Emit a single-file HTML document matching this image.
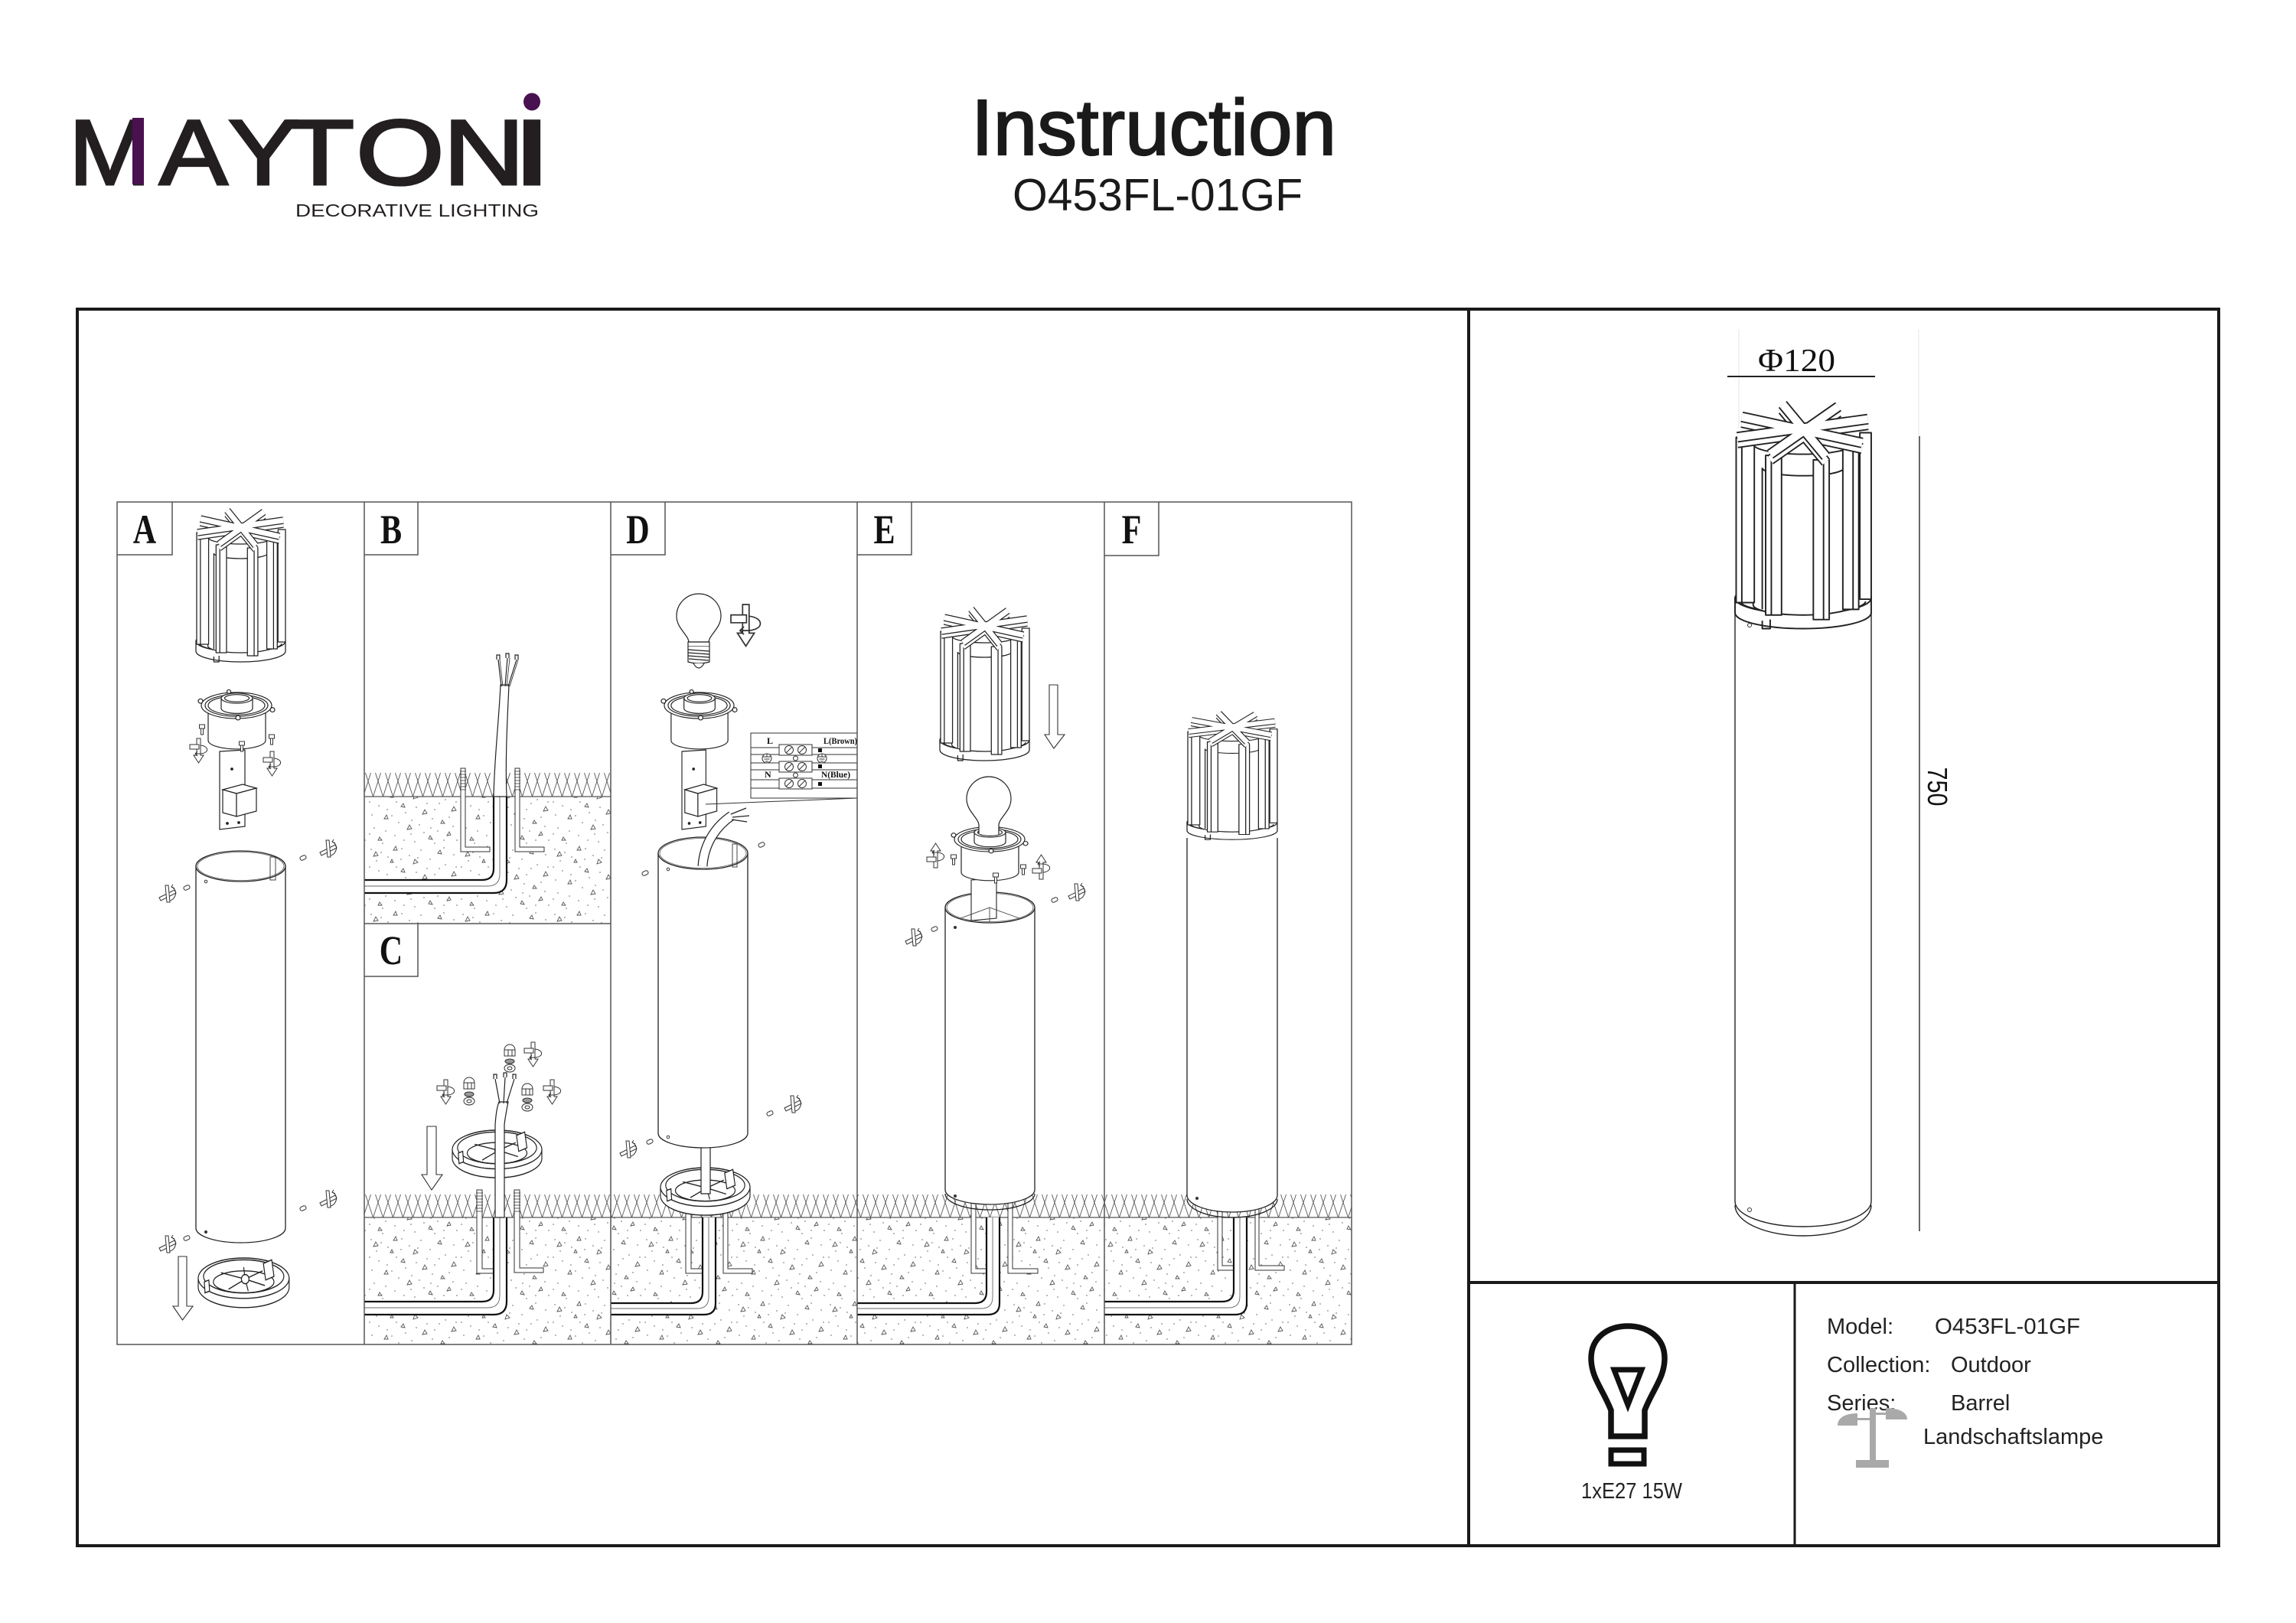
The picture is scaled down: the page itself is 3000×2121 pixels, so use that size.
<!DOCTYPE html>
<html><head><meta charset="utf-8">
<style>
html,body{margin:0;padding:0;background:#fff;}
svg{display:block;}
</style></head>
<body>
<svg width="3000" height="2121" viewBox="0 0 3000 2121" xmlns="http://www.w3.org/2000/svg" xmlns:xlink="http://www.w3.org/1999/xlink" font-family="'Liberation Sans', sans-serif">
<defs>
  <pattern id="g1" x="0" y="1010" width="13" height="31" patternUnits="userSpaceOnUse">
    <path d="M-16.5 0 L-6.5 31 L3.5 0 M-3.5 0 L6.5 31 L16.5 0 M9.5 0 L19.5 31 L29.5 0" fill="none" stroke="#555" stroke-width="0.9"/>
  </pattern>
  <pattern id="g2" x="0" y="1561" width="13" height="30" patternUnits="userSpaceOnUse">
    <path d="M-16.5 0 L-6.5 30 L3.5 0 M-3.5 0 L6.5 30 L16.5 0 M9.5 0 L19.5 30 L29.5 0" fill="none" stroke="#555" stroke-width="0.9"/>
  </pattern>
  <pattern id="soil" x="0" y="0" width="120" height="85" patternUnits="userSpaceOnUse">
    <path d="M8 14 l6 -1 l-3 -5 z M34 6 l5 0 l-2 -5 z M60 24 l6 -2 l-4 -4 z M92 10 l5 1 l-2 -5 z M110 40 l6 -1 l-3 -5 z M22 50 l5 0 l-2 -5 z M52 64 l6 -1 l-3 -5 z M80 76 l5 1 l-3 -5 z M104 72 l5 -1 l-2 -4 z M14 78 l5 0 l-3 -4 z M72 44 l6 -1 l-3 -5 z M44 34 l5 1 l-2 -5 z M96 56 l5 0 l-3 -4 z M30 22 l4 0 l-2 -4 z" fill="none" stroke="#555" stroke-width="0.9"/>
    <g fill="#8a8a8a">
      <circle cx="5" cy="5" r="0.9"/><circle cx="18" cy="9" r="0.9"/><circle cx="27" cy="15" r="0.9"/><circle cx="45" cy="4" r="0.9"/><circle cx="55" cy="13" r="0.9"/><circle cx="70" cy="6" r="0.9"/><circle cx="82" cy="18" r="0.9"/><circle cx="100" cy="3" r="0.9"/><circle cx="113" cy="12" r="0.9"/><circle cx="3" cy="28" r="0.9"/><circle cx="15" cy="33" r="0.9"/><circle cx="38" cy="28" r="0.9"/><circle cx="50" cy="42" r="0.9"/><circle cx="64" cy="35" r="0.9"/><circle cx="78" cy="30" r="0.9"/><circle cx="88" cy="38" r="0.9"/><circle cx="102" cy="25" r="0.9"/><circle cx="116" cy="28" r="0.9"/><circle cx="6" cy="45" r="0.9"/><circle cx="32" cy="46" r="0.9"/><circle cx="41" cy="55" r="0.9"/><circle cx="58" cy="52" r="0.9"/><circle cx="68" cy="58" r="0.9"/><circle cx="85" cy="50" r="0.9"/><circle cx="92" cy="66" r="0.9"/><circle cx="112" cy="60" r="0.9"/><circle cx="9" cy="62" r="0.9"/><circle cx="24" cy="66" r="0.9"/><circle cx="36" cy="72" r="0.9"/><circle cx="48" cy="78" r="0.9"/><circle cx="62" cy="80" r="0.9"/><circle cx="74" cy="68" r="0.9"/><circle cx="88" cy="82" r="0.9"/><circle cx="100" cy="78" r="0.9"/><circle cx="117" cy="78" r="0.9"/><circle cx="20" cy="82" r="0.9"/><circle cx="3" cy="70" r="0.9"/><circle cx="57" cy="70" r="0.9"/><circle cx="83" cy="62" r="0.9"/><circle cx="107" cy="48" r="0.9"/><circle cx="26" cy="38" r="0.9"/><circle cx="66" cy="16" r="0.9"/><circle cx="94" cy="30" r="0.9"/><circle cx="12" cy="20" r="0.9"/><circle cx="44" cy="18" r="0.9"/>
    </g>
  </pattern>

  <g id="head" stroke="#222" stroke-width="1.3" stroke-linejoin="round" fill="#fff">
    <path d="M0 172 V185 A60 14 0 0 0 120 185 V172 Z"/>
    <ellipse cx="60" cy="172" rx="60" ry="14"/>
    <path d="M5 175 A55 10 0 0 0 115 175" fill="none"/>
    <path d="M24 192 v7 h7 v-8" fill="none"/>
    <path d="M16 36 V178 A44 9 0 0 0 104 178 V36 Z"/>
    <ellipse cx="60" cy="36" rx="44" ry="9"/>
    <path d="M24 57 A36 7 0 0 0 96 57" fill="none"/>
    <line x1="24" y1="57" x2="24" y2="182"/><line x1="96" y1="57" x2="96" y2="182"/>
    <rect x="110" y="26" width="10" height="147"/>
    <rect x="1" y="30" width="16" height="146"/><line x1="6" y1="30" x2="6" y2="176"/>
    <rect x="95" y="38" width="14" height="144"/><line x1="104" y1="38" x2="104" y2="182"/>
    <rect x="27" y="46" width="14" height="141"/><line x1="32" y1="46" x2="32" y2="187"/>
    <rect x="69" y="50" width="14" height="141"/><line x1="78" y1="50" x2="78" y2="191"/>
    <g fill="none" stroke-linecap="butt">
      <g transform="translate(0,5)">
        <path d="M42 1 L80 47 M91 3 L31 45 M117 14 L2 30 M112 35 L6 12" stroke="#222" stroke-width="9.5"/>
        <path d="M42 1 L80 47 M91 3 L31 45 M117 14 L2 30 M112 35 L6 12" stroke="#fff" stroke-width="7"/>
      </g>
      <path d="M42 1 L80 47 M91 3 L31 45 M117 14 L2 30 M112 35 L6 12" stroke="#222" stroke-width="9.5"/>
      <path d="M42 1 L80 47 M91 3 L31 45 M117 14 L2 30 M112 35 L6 12" stroke="#fff" stroke-width="7"/>
    </g>
  </g>

  <g id="sock" fill="#fff" stroke="#222" stroke-width="1.2">
    <path d="M13 24 V70 A37.5 12 0 0 0 88 70 V24"/>
    <ellipse cx="50" cy="22" rx="46" ry="18"/>
    <ellipse cx="50" cy="22" rx="41" ry="15"/>
    <ellipse cx="50" cy="22" rx="37" ry="13"/>
    <path d="M30 12 V26 A20.5 7 0 0 0 71 26 V12"/>
    <ellipse cx="50.5" cy="12" rx="20.5" ry="7"/>
    <ellipse cx="50.5" cy="12" rx="16" ry="5"/>
    <circle cx="3" cy="16" r="3"/>
    <circle cx="97" cy="28" r="3"/>
    <circle cx="52" cy="39" r="3"/>
    <circle cx="40" cy="3" r="2.5"/>
  </g>

  <g id="brk" fill="#fff" stroke="#222" stroke-width="1.2">
    <path d="M0 2 L33 0 V100 L0 104 Z"/>
    <circle cx="16" cy="25" r="1.3" fill="#222"/>
    <path d="M4 52 L30 45 L48 50 L22 57 Z"/>
    <path d="M4 52 V82 L22 87 V57 Z"/>
    <path d="M22 57 L48 50 V80 L22 87 Z"/>
    <circle cx="10" cy="96" r="1.3" fill="#222"/><circle cx="25" cy="95" r="1.3" fill="#222"/>
  </g>

  <g id="flange" fill="#fff" stroke="#222" stroke-width="1.2">
    <path d="M0 32 V42 A60 22 0 0 0 120 42 V32 Z"/>
    <ellipse cx="60" cy="32" rx="60" ry="22"/>
    <ellipse cx="60" cy="30" rx="53" ry="18"/>
    <ellipse cx="60" cy="36" rx="40" ry="12" fill="none"/>
    <path d="M62 33 L30 26 M62 33 L40 44 M62 33 L88 40 M62 33 L85 24 M62 33 L60 20 M62 33 L66 46" fill="none"/>
    <circle cx="62" cy="33" r="5"/>
    <path d="M86 16 L97 12 L100 30 L89 34 Z"/>
    <path d="M8 36 L14 34 L15 46 L9 48 Z"/>
  </g>

  <g id="rot" fill="#fff" stroke="#333" stroke-width="1">
    <path d="M9 0 H14 V22 H18 L11.5 32 L5 22 H9 Z"/>
    <path d="M0 8 H12 V14 H0 Z"/>
    <path d="M14 9 C25 10 26 19 14 20 L8 20" fill="none"/>
    <path d="M10 17 L7 20 L10 23" fill="none"/>
  </g>

  <g id="prop" fill="#fff" stroke="#333" stroke-width="1">
    <path d="M2 18 L22 8 L24 12 L4 22 Z"/>
    <path d="M10 2 L14 2 L16 24 L12 24 Z"/>
    <path d="M18 4 C27 8 24 20 16 22" fill="none"/>
    <path d="M20 1 L18 4 L22 6" fill="none"/>
  </g>

  <g id="pin"><rect x="-4" y="-2.5" width="8" height="5" rx="2" fill="#fff" stroke="#333" stroke-width="1" transform="rotate(-25)"/></g>

  <g id="screw" fill="#fff" stroke="#333" stroke-width="1">
    <rect x="-3.5" y="0" width="7" height="5"/>
    <rect x="-1.5" y="5" width="3" height="8"/>
  </g>

  <g id="nut" fill="#fff" stroke="#333" stroke-width="1">
    <path d="M-7 0 A7 7 0 0 1 7 0 Z"/>
    <rect x="-7" y="0" width="14" height="8"/>
    <line x1="-2" y1="0" x2="-2" y2="8"/><line x1="3" y1="0" x2="3" y2="8"/>
    <ellipse cx="0" cy="15" rx="6" ry="3" fill="#999"/>
    <ellipse cx="0" cy="24" rx="7" ry="5"/><ellipse cx="0" cy="24" rx="3" ry="2"/>
  </g>
</defs>

<rect width="3000" height="2121" fill="#fff"/>

<!-- LOGO -->
<g fill="#231f20" stroke="#231f20" stroke-width="3" font-family="'Liberation Sans', sans-serif" font-size="121">
  <text transform="translate(90,241) scale(1.06,1)">M</text>
  <text transform="translate(208,241) scale(1.11,1)">A</text>
  <text transform="translate(298,241) scale(1.14,1)">Y</text>
  <text transform="translate(373,241) scale(1.22,1)">T</text>
  <text transform="translate(465,241) scale(1.23,1)">O</text>
  <text transform="translate(579,241) scale(1.22,1)">N</text>
  <text transform="translate(669,241) scale(1.55,1)">I</text>
</g>
<rect x="173" y="154" width="15" height="87" fill="#4a1150"/>
<ellipse cx="695" cy="133" rx="11" ry="11.5" fill="#4a1150"/>
<text x="386" y="283" font-size="23" fill="#231f20" textLength="318" lengthAdjust="spacingAndGlyphs">DECORATIVE LIGHTING</text>

<!-- TITLE -->
<text x="1269" y="202" font-size="103" fill="#1a1a1a" stroke="#1a1a1a" stroke-width="2.2" textLength="477" lengthAdjust="spacingAndGlyphs">Instruction</text>
<text x="1323" y="275" font-size="59" fill="#1a1a1a" textLength="379" lengthAdjust="spacingAndGlyphs">O453FL-01GF</text>

<!-- FRAME -->
<g stroke="#1a1a1a" stroke-width="4" fill="none">
  <rect x="101" y="404" width="2798" height="1616"/>
  <line x1="1919" y1="404" x2="1919" y2="2020"/>
  <line x1="1919" y1="1676" x2="2899" y2="1676"/>
  <line x1="2345" y1="1676" x2="2345" y2="2020" stroke-width="3"/>
</g>

<!-- GROUND AREAS -->
<rect x="476" y="1041" width="322" height="166" fill="url(#soil)"/>
<rect x="476" y="1591" width="1290" height="166" fill="url(#soil)"/>
<rect x="476" y="1010" width="322" height="31" fill="url(#g1)"/>
<rect x="476" y="1561" width="1290" height="30" fill="url(#g2)"/>
<g stroke="#555" stroke-width="1.3">
  <line x1="476" y1="1041" x2="798" y2="1041"/>
  <line x1="476" y1="1591" x2="1766" y2="1591"/>
</g>

<!-- ANCHORS -->
<g fill="#fff" stroke="#333" stroke-width="1">
  <path d="M602 1004 V1113 H640 V1107 H608 V1004 Z"/>
  <path d="M673 1004 V1113 H711 V1107 H679 V1004 Z"/>
  <path d="M623 1555 V1664 H645 V1658 H630 V1555 Z"/>
  <path d="M672 1555 V1663 H710 V1657 H679 V1555 Z"/>
  <path d="M896 1555 V1664 H918 V1658 H903 V1555 Z"/>
  <path d="M945 1555 V1664 H983 V1658 H951 V1555 Z"/>
  <path d="M1269 1555 V1664 H1289 V1658 H1275 V1555 Z"/>
  <path d="M1317 1555 V1664 H1356 V1658 H1323 V1555 Z"/>
  <path d="M1591 1555 V1660 H1612 V1654 H1597 V1555 Z"/>
  <path d="M1640 1555 V1660 H1678 V1654 H1645 V1555 Z"/>
</g>
<g stroke="#333" stroke-width="0.8" fill="none">
  <path d="M601 1008 h8 M601 1012 h8 M601 1016 h8 M601 1020 h8 M601 1024 h8 M601 1028 h8 M601 1032 h8"/>
  <path d="M672 1008 h8 M672 1012 h8 M672 1016 h8 M672 1020 h8 M672 1024 h8 M672 1028 h8 M672 1032 h8"/>
  <path d="M622 1559 h9 M622 1563 h9 M622 1567 h9 M622 1571 h9 M622 1575 h9 M622 1579 h9 M622 1583 h9"/>
  <path d="M671 1559 h9 M671 1563 h9 M671 1567 h9 M671 1571 h9 M671 1575 h9 M671 1579 h9 M671 1583 h9"/>
</g>

<!-- UNDERGROUND CABLES -->
<g>
  <path d="M476 1150 H630 Q645 1150 645 1135 V1041 H662 V1150 Q662 1167 645 1167 H476 Z" fill="#fff"/>
  <path d="M476 1150 H630 Q645 1150 645 1135 V1041 M476 1167 H645 Q662 1167 662 1150 V1041" fill="none" stroke="#111" stroke-width="2.2"/>
  <path d="M476 1158 H637 Q653 1158 653 1142 V1041" fill="none" stroke="#666" stroke-width="0.9"/>

  <path d="M476 1701 H630 Q645 1701 645 1686 V1591 H662 V1701 Q662 1718 645 1718 H476 Z" fill="#fff"/>
  <path d="M476 1701 H630 Q645 1701 645 1686 V1591 M476 1718 H645 Q662 1718 662 1701 V1591" fill="none" stroke="#111" stroke-width="2.2"/>
  <path d="M476 1709 H637 Q653 1709 653 1693 V1591" fill="none" stroke="#666" stroke-width="0.9"/>

  <path d="M798 1703 H903 Q918 1703 918 1688 V1591 H935 V1703 Q935 1718 920 1718 H798 Z" fill="#fff"/>
  <path d="M798 1703 H903 Q918 1703 918 1688 V1591 M798 1718 H920 Q935 1718 935 1703 V1591" fill="none" stroke="#111" stroke-width="2.2"/>
  <path d="M798 1710 H911 Q926 1710 926 1695 V1591" fill="none" stroke="#666" stroke-width="0.9"/>

  <path d="M1120 1703 H1274 Q1289 1703 1289 1688 V1591 H1306 V1703 Q1306 1718 1291 1718 H1120 Z" fill="#fff"/>
  <path d="M1120 1703 H1274 Q1289 1703 1289 1688 V1591 M1120 1718 H1291 Q1306 1718 1306 1703 V1591" fill="none" stroke="#111" stroke-width="2.2"/>
  <path d="M1120 1710 H1282 Q1297 1710 1297 1695 V1591" fill="none" stroke="#666" stroke-width="0.9"/>

  <path d="M1443 1701 H1597 Q1612 1701 1612 1686 V1591 H1629 V1703 Q1629 1718 1614 1718 H1443 Z" fill="#fff"/>
  <path d="M1443 1701 H1597 Q1612 1701 1612 1686 V1591 M1443 1718 H1614 Q1629 1718 1629 1703 V1591" fill="none" stroke="#111" stroke-width="2.2"/>
  <path d="M1443 1709 H1605 Q1620 1709 1620 1694 V1591" fill="none" stroke="#666" stroke-width="0.9"/>
</g>

<!-- PANEL B cable above ground -->
<path d="M645 1041 C646 990 652 940 654 895 L665 895 C663 940 660 990 662 1041 Z" fill="#fff" stroke="#222" stroke-width="1.2"/>
<g fill="none" stroke="#222" stroke-width="1.2">
  <path d="M655 897 L651 862 M660 897 L663 860 M664 897 L675 862"/>
  <path d="M657 897 L653 862 M662 897 L666 860 M666 897 L677 862" stroke-width="0.8"/>
  <path d="M649 862 v-6 h4 v6 M661 860 v-6 h4 v6 M673 862 v-6 h4 v6"/>
</g>

<!-- PANEL A -->
<use xlink:href="#head" transform="translate(256,666) scale(0.975,1)"/>
<use xlink:href="#brk" transform="translate(287,980)"/>
<use xlink:href="#sock" transform="translate(259,901) scale(1,0.95)"/>
<use xlink:href="#screw" transform="translate(264,947)"/>
<use xlink:href="#screw" transform="translate(355,960)"/>
<use xlink:href="#screw" transform="translate(316,969)"/>
<use xlink:href="#rot" transform="translate(248,965)"/>
<use xlink:href="#rot" transform="translate(344,982)"/>
<path d="M256 1132 V1605 A58.5 19 0 0 0 373 1605 V1132" fill="#fff" stroke="#222" stroke-width="1.3"/>
<ellipse cx="314.5" cy="1132" rx="58.5" ry="20" fill="#fff" stroke="#222" stroke-width="1.3"/>
<ellipse cx="314.5" cy="1132" rx="56.5" ry="18.5" fill="none" stroke="#555" stroke-width="0.8"/>
<rect x="353" y="1120" width="7" height="30" fill="none" stroke="#333" stroke-width="0.9"/>
<circle cx="269" cy="1152" r="1.8" fill="none" stroke="#333"/>
<circle cx="269" cy="1610" r="2" fill="#333"/>
<use xlink:href="#pin" transform="translate(244,1160)"/>
<use xlink:href="#pin" transform="translate(396,1121)"/>
<use xlink:href="#pin" transform="translate(244,1618)"/>
<use xlink:href="#pin" transform="translate(396,1579)"/>
<use xlink:href="#prop" transform="translate(206,1155)"/>
<use xlink:href="#prop" transform="translate(416,1096)"/>
<use xlink:href="#prop" transform="translate(206,1613)"/>
<use xlink:href="#prop" transform="translate(416,1554)"/>
<use xlink:href="#flange" transform="translate(259,1632) scale(0.99,1.2)"/>
<path d="M233 1642 H244 V1707 H252 L238.5 1725 L226 1707 H233 Z" fill="#fff" stroke="#333" stroke-width="1.1"/>

<!-- PANEL C -->
<use xlink:href="#flange" transform="translate(591,1465.5) scale(0.975,1.15)"/>
<path d="M647 1591 V1470 C648 1455 650 1445 652 1440 L664 1440 C662 1450 660 1460 659 1470 V1591 Z" fill="#fff" stroke="#222" stroke-width="1.2"/>
<g fill="none" stroke="#222" stroke-width="1.2">
  <path d="M653 1442 L647 1410 M658 1442 L660 1408 M662 1442 L672 1410"/>
  <path d="M645 1410 v-6 h4 v6 M658 1408 v-6 h4 v6 M670 1410 v-6 h4 v6"/>
</g>
<use xlink:href="#nut" transform="translate(613,1415)"/>
<use xlink:href="#nut" transform="translate(666,1372)"/>
<use xlink:href="#nut" transform="translate(689,1423)"/>
<use xlink:href="#rot" transform="translate(571,1411)"/>
<use xlink:href="#rot" transform="translate(685,1362)"/>
<use xlink:href="#rot" transform="translate(710,1411)"/>
<path d="M558 1472 H570 V1535 H578 L564 1555 L551 1535 H558 Z" fill="#fff" stroke="#333" stroke-width="1.1"/>

<!-- PANEL D -->
<use xlink:href="#flange" transform="translate(863,1514.5) scale(0.975,1.15)"/>
<path d="M916 1498 L916 1560 L928 1560 L928 1498 Z" fill="#fff" stroke="#222" stroke-width="1.2"/>
<path d="M860 1115 V1481 A58.5 19 0 0 0 977 1481 V1115" fill="#fff" stroke="#222" stroke-width="1.3"/>
<ellipse cx="918.5" cy="1115" rx="58.5" ry="21" fill="#fff" stroke="#222" stroke-width="1.3"/>
<ellipse cx="918.5" cy="1115" rx="56.5" ry="19.5" fill="none" stroke="#555" stroke-width="0.8"/>
<rect x="957" y="1103" width="6" height="30" fill="none" stroke="#333" stroke-width="0.9"/>
<circle cx="873" cy="1136" r="1.8" fill="none" stroke="#333"/>
<circle cx="873" cy="1486" r="1.8" fill="none" stroke="#333"/>
<path d="M918 1132 C920 1100 938 1078 956 1066" fill="none" stroke="#222" stroke-width="13"/>
<path d="M918 1132 C920 1100 938 1078 956 1066" fill="none" stroke="#fff" stroke-width="10.5"/>
<path d="M955 1064 L975 1056 M957 1068 L979 1066 M956 1071 L976 1074" fill="none" stroke="#222" stroke-width="1.3"/>
<use xlink:href="#brk" transform="translate(891,980) scale(0.95,1)"/>
<use xlink:href="#sock" transform="translate(864,901) scale(0.99,0.95)"/>
<g fill="#fff" stroke="#222" stroke-width="1.2">
  <path d="M900 839 C899 829 884 821 884 805 A29 29 0 0 1 942 805 C942 821 927 829 926 839 Z"/>
  <path d="M899 839 H927 V845 H899 Z"/>
  <path d="M899 845 V865 Q913 869 927 865 V845"/>
  <path d="M899 849 L927 851 M899 853 L927 855 M899 857 L927 859 M900 861 L926 863" fill="none"/>
  <path d="M906 867 Q913 879 920 867"/>
</g>
<use xlink:href="#rot" transform="translate(955,790) scale(1.7)"/>
<use xlink:href="#pin" transform="translate(843,1141)"/>
<use xlink:href="#pin" transform="translate(995,1104)"/>
<use xlink:href="#pin" transform="translate(849,1492)"/>
<use xlink:href="#pin" transform="translate(1006,1455)"/>
<use xlink:href="#prop" transform="translate(808,1489)"/>
<use xlink:href="#prop" transform="translate(1023,1430)"/>

<!-- wiring diagram -->
<line x1="922" y1="1051" x2="1120" y2="1043" stroke="#333" stroke-width="1"/>
<rect x="981" y="958" width="139" height="85" fill="#fff" stroke="#333" stroke-width="1"/>
<g stroke="#333" stroke-width="1" fill="none">
  <path d="M981 977 H1018 M981 986 H1018 M981 997 H1018 M981 1006 H1018 M981 1019 H1018 M981 1030 H1018"/>
  <path d="M1061 977 H1120 M1061 986 H1120 M1061 997 H1120 M1061 1006 H1120 M1061 1019 H1120 M1061 1030 H1120"/>
  <rect x="1018" y="973" width="43" height="14" fill="#fff"/>
  <rect x="1018" y="995" width="43" height="14" fill="#fff"/>
  <rect x="1018" y="1017" width="43" height="14" fill="#fff"/>
  <circle cx="1031" cy="980" r="5.5"/><circle cx="1048" cy="980" r="5.5"/>
  <circle cx="1031" cy="1002" r="5.5"/><circle cx="1048" cy="1002" r="5.5"/>
  <circle cx="1031" cy="1024" r="5.5"/><circle cx="1048" cy="1024" r="5.5"/>
  <path d="M1027 984 L1035 976 M1044 984 L1052 976 M1027 1006 L1035 998 M1044 1006 L1052 998 M1027 1028 L1035 1020 M1044 1028 L1052 1020"/>
  <circle cx="1039.5" cy="991" r="3" fill="#fff"/><circle cx="1039.5" cy="1013" r="3" fill="#fff"/>
  <circle cx="1002" cy="991" r="6" fill="#fff"/><circle cx="1074" cy="991" r="6" fill="#fff"/>
  <path d="M1002 985 V989 M997 989 H1007 M998.5 992 H1005.5 M1000 995 H1004 M1074 985 V989 M1069 989 H1079 M1070.5 992 H1077.5 M1072 995 H1076"/>
</g>
<g fill="#111">
  <rect x="1069" y="978" width="5" height="5"/><rect x="1069" y="999" width="5" height="5"/><rect x="1069" y="1022" width="5" height="5"/>
</g>
<g font-family="'Liberation Serif', serif" font-weight="bold" font-size="12" fill="#111">
  <text x="1002" y="972">L</text>
  <text x="1076" y="972" textLength="44" lengthAdjust="spacingAndGlyphs">L(Brown)</text>
  <text x="999" y="1016">N</text>
  <text x="1073" y="1016" textLength="38" lengthAdjust="spacingAndGlyphs">N(Blue)</text>
</g>

<!-- PANEL E -->
<use xlink:href="#head" transform="translate(1228,795) scale(0.975,1)"/>
<path d="M1371 895 H1382 V960 H1391 L1377 978 L1365 960 H1371 Z" fill="#fff" stroke="#333" stroke-width="1.1"/>
<path d="M1235 1186 V1555 A58.5 19 0 0 0 1352 1555 V1186" fill="#fff" stroke="#222" stroke-width="1.3"/>
<path d="M1235 1560 A58.5 21 0 0 0 1352 1560" fill="none" stroke="#222" stroke-width="1.3"/>
<ellipse cx="1293.5" cy="1186" rx="58.5" ry="20" fill="#fff" stroke="#222" stroke-width="1.3"/>
<ellipse cx="1293.5" cy="1186" rx="56.5" ry="18.5" fill="none" stroke="#555" stroke-width="0.8"/>
<circle cx="1248" cy="1212" r="2" fill="#333"/>
<circle cx="1248" cy="1563" r="2" fill="#333"/>
<path d="M1269 1150 L1302 1148 V1200 L1269 1203 Z" fill="#fff" stroke="#222" stroke-width="1.1"/>
<path d="M1255 1200 L1293 1186 L1332 1200 M1293 1186 V1205" fill="none" stroke="#444" stroke-width="0.9"/>
<use xlink:href="#sock" transform="translate(1243,1077) scale(1,0.9)"/>
<g fill="#fff" stroke="#222" stroke-width="1.2">
  <path d="M1279 1090 V1078 C1278 1068 1263 1060 1263 1044 A29 29 0 0 1 1321 1044 C1321 1060 1306 1068 1305 1078 V1090"/>
</g>
<use xlink:href="#screw" transform="translate(1246,1117)"/>
<use xlink:href="#screw" transform="translate(1337,1130)"/>
<use xlink:href="#screw" transform="translate(1301,1141)"/>
<use xlink:href="#rot" transform="translate(1211,1134) scale(1,-1)"/>
<use xlink:href="#rot" transform="translate(1349,1149) scale(1,-1)"/>
<use xlink:href="#prop" transform="translate(1394,1153)"/>
<use xlink:href="#pin" transform="translate(1378,1176)"/>
<use xlink:href="#prop" transform="translate(1181,1212)"/>
<use xlink:href="#pin" transform="translate(1221,1214)"/>

<!-- PANEL F -->
<path d="M1551 1095 V1562 A59 22 0 0 0 1669 1562 V1095" fill="#fff" stroke="#222" stroke-width="1.3"/>
<path d="M1551 1567 A59 24 0 0 0 1669 1567" fill="none" stroke="#222" stroke-width="1.3"/>
<circle cx="1564" cy="1566" r="2" fill="#333"/>
<use xlink:href="#head" transform="translate(1551,931) scale(0.983,0.835)"/>

<!-- PANEL FRAMES -->
<g stroke="#555" stroke-width="1.5" fill="none">
  <rect x="153" y="656" width="1613" height="1101"/>
  <line x1="476" y1="656" x2="476" y2="1757"/>
  <line x1="798" y1="656" x2="798" y2="1757"/>
  <line x1="1120" y1="656" x2="1120" y2="1757"/>
  <line x1="1443" y1="656" x2="1443" y2="1757"/>
  <line x1="476" y1="1207" x2="798" y2="1207"/>
  <path d="M153 725 H225 V656"/>
  <path d="M476 725 H546 V656"/>
  <path d="M476 1276 H546 V1207"/>
  <path d="M798 725 H869 V656"/>
  <path d="M1120 725 H1191 V656"/>
  <path d="M1443 726 H1514 V656"/>
</g>
<g font-family="'Liberation Serif', serif" font-weight="bold" font-size="54" fill="#111" text-anchor="middle">
  <text transform="translate(189,710) scale(0.78,1)">A</text>
  <text transform="translate(511,710) scale(0.78,1)">B</text>
  <text transform="translate(511,1260) scale(0.78,1)">C</text>
  <text transform="translate(833.5,710) scale(0.78,1)">D</text>
  <text transform="translate(1155.5,710) scale(0.78,1)">E</text>
  <text transform="translate(1478.5,710) scale(0.78,1)">F</text>
</g>

<!-- RIGHT PANEL DRAWING -->
<g stroke="#e4e4e4" stroke-width="1">
  <line x1="2272" y1="430" x2="2272" y2="560"/>
  <line x1="2507" y1="430" x2="2507" y2="570"/>
</g>
<text x="2297" y="485" font-family="'Liberation Serif', serif" font-size="42" fill="#111" textLength="101" lengthAdjust="spacingAndGlyphs">Φ120</text>
<line x1="2257" y1="492" x2="2450" y2="492" stroke="#222" stroke-width="2"/>
<line x1="2508" y1="570" x2="2508" y2="1609" stroke="#333" stroke-width="1.5"/>
<text transform="translate(2519,1028) rotate(90)" font-size="36" fill="#111" text-anchor="middle" textLength="51" lengthAdjust="spacingAndGlyphs">750</text>
<path d="M2267 800 V1570 A89 33 0 0 0 2445 1570 V800" fill="#fff" stroke="#222" stroke-width="1.4"/>
<path d="M2267 1575 A89 40 0 0 0 2445 1575" fill="none" stroke="#222" stroke-width="1.4"/>
<circle cx="2286" cy="1581" r="2.5" fill="none" stroke="#333"/>
<use xlink:href="#head" transform="translate(2267,527) scale(1.483,1.48)"/>
<circle cx="2286" cy="817" r="2.5" fill="none" stroke="#333"/>

<!-- BOTTOM TABLE -->
<g fill="none" stroke="#111" stroke-width="7.5" stroke-linejoin="miter">
  <path d="M2105 1877 V1843 C2094 1815 2079 1800 2079 1775 C2079 1748 2101 1733 2127 1733 C2153 1733 2175 1748 2175 1775 C2175 1800 2160 1815 2149 1843 V1877 Z"/>
  <path d="M2109 1790 H2145 L2127 1836 Z" stroke-width="7"/>
  <rect x="2105" y="1895" width="43" height="18" stroke-width="7"/>
</g>
<text x="2066" y="1958" font-size="29" fill="#222" textLength="132" lengthAdjust="spacingAndGlyphs">1xE27 15W</text>

<g font-size="29" fill="#222">
  <text x="2387" y="1743">Model:</text>
  <text x="2528" y="1743" textLength="190" lengthAdjust="spacingAndGlyphs">O453FL-01GF</text>
  <text x="2387" y="1793">Collection:</text>
  <text x="2549" y="1793">Outdoor</text>
  <text x="2387" y="1843">Series:</text>
  <text x="2549" y="1843">Barrel</text>
  <text x="2513" y="1887">Landschaftslampe</text>
</g>
<g fill="#a9a9a9">
  <rect x="2443" y="1840" width="8" height="72"/>
  <rect x="2425" y="1908" width="43" height="10"/>
  <path d="M2427 1847 V1863 H2401 C2401 1852 2412 1847 2427 1847 Z"/>
  <path d="M2464 1840 V1855 H2492 C2492 1845 2480 1840 2464 1840 Z"/>
  <rect x="2427" y="1853" width="16" height="3"/>
  <rect x="2451" y="1846" width="13" height="3"/>
</g>
</svg>
</body></html>
